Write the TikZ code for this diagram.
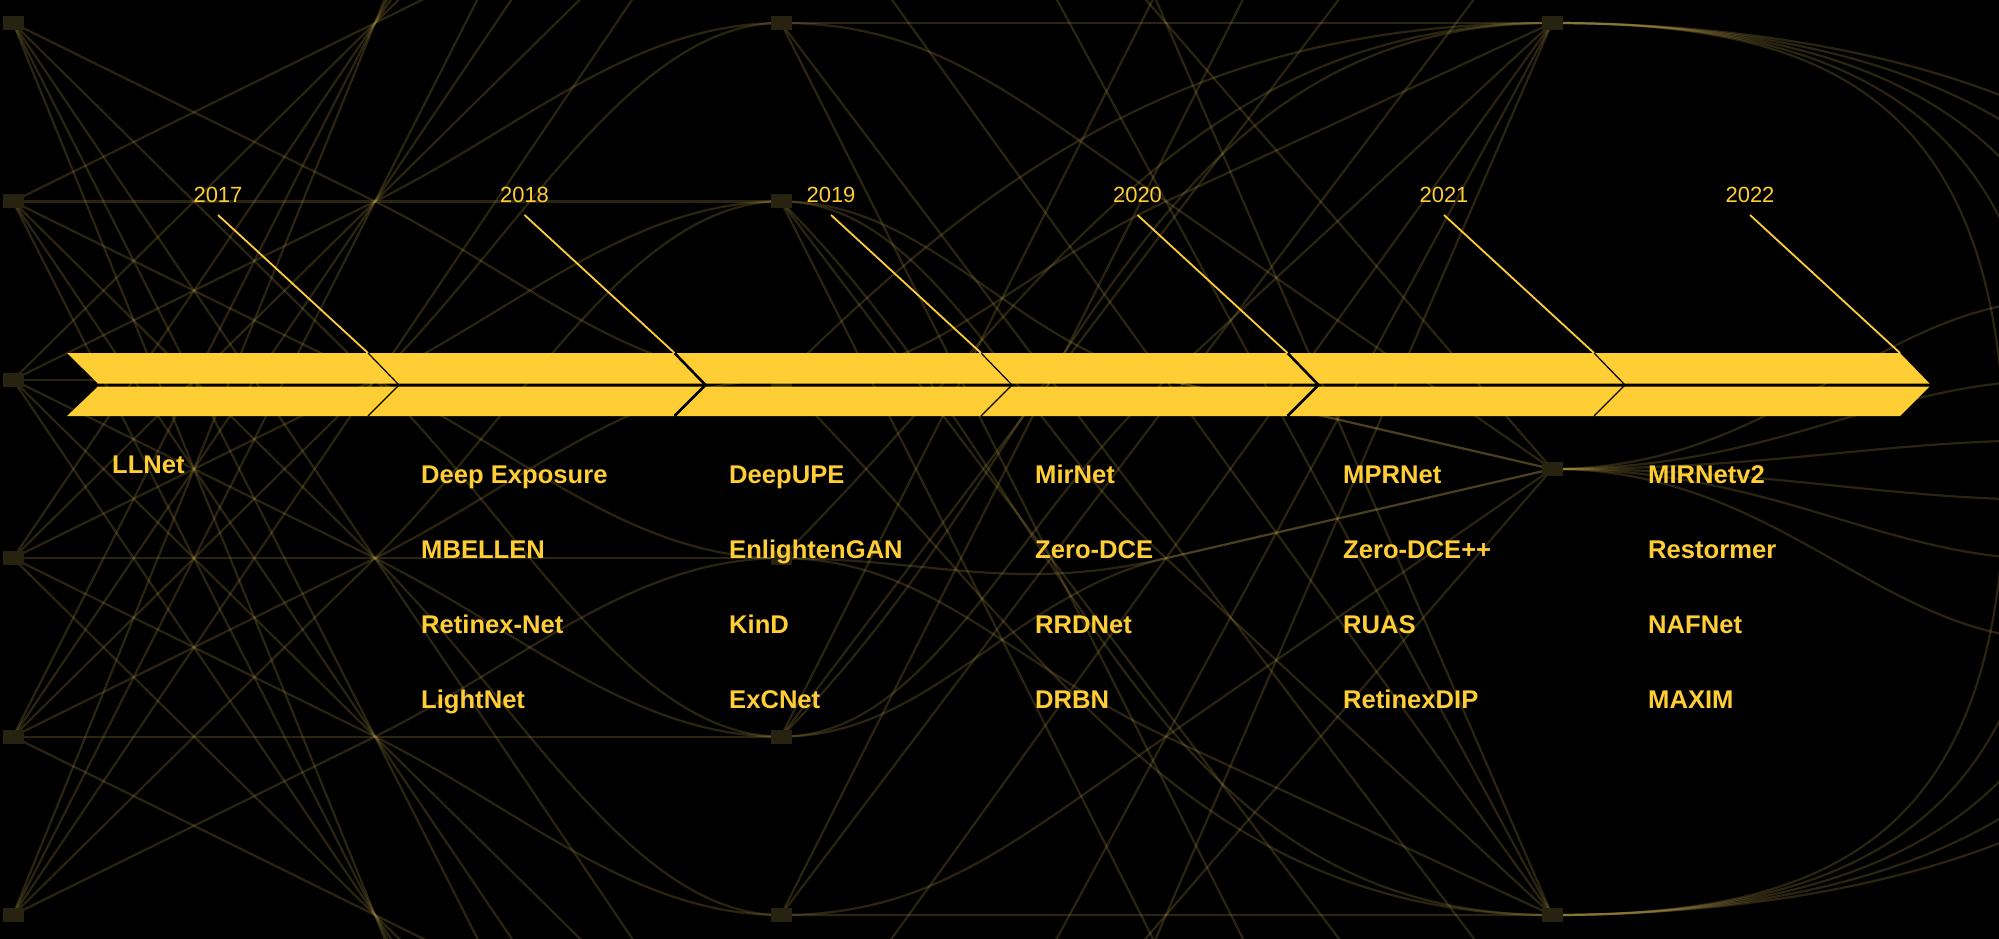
\documentclass[tikz,border=0pt]{standalone}
\usepackage{fontspec}
\setmainfont{Liberation Sans}
\usetikzlibrary{positioning,calc}

\definecolor{gold}{RGB}{255,205,52}
\definecolor{webline}{RGB}{200,170,80}
\definecolor{hubfill}{RGB}{40,34,17}

\begin{document}
\begin{tikzpicture}[
    x=1pt, y=-1pt,
    web/.style={draw=webline, opacity=0.21, line width=2.2pt},
    hub/.style={rectangle, fill=hubfill, minimum width=21pt, minimum height=14pt, inner sep=0pt},
    year/.style={text=gold, font=\fontsize{22}{26}\selectfont, inner sep=0pt},
    method/.style={text=gold, font=\fontsize{25.6}{30}\selectfont\bfseries, inner sep=0pt, anchor=base west},
    pointer/.style={draw=gold, line width=1.8pt}
]
\useasboundingbox (0,0) rectangle (1999,939);
\fill[black] (0,0) rectangle (1999,939);
\clip (0,0) rectangle (1999,939);

% background web
\foreach \r in {0,...,5}{
  \pgfmathsetmacro\yy{23+178.4*\r}
  \coordinate (a\r) at (13,\yy);
  \coordinate (m\r) at (375,\yy);
  \coordinate (b\r) at (781,\yy);
  \coordinate (n\r) at (1166,\yy);
  \coordinate (p\r) at (1051,\yy);
}
\coordinate (c0) at (1552,23);
\coordinate (c1) at (1552,469);
\coordinate (c2) at (1552,915);

\foreach \i in {0,...,5}{
  \foreach \j in {0,...,5}{
    \pgfmathtruncatemacro\k{2*\j-\i}
    \pgfmathtruncatemacro\keep{((\i==\j)&&((\i==0)||(\i==5))) ? 0 : 1}
    \ifnum\keep=1
      \ifnum\k<0 \draw[web] (a\i) -- ($(a\i)!3!(m\j)$);
      \else\ifnum\k>5 \draw[web] (a\i) -- ($(a\i)!3!(m\j)$);
      \else \draw[web] (a\i) -- (m\j) .. controls ($(m\j)!-0.4!(a\i)$) and ($(b\k)+(-150,0)$) .. (b\k);
      \fi\fi
    \fi
  }
}

\foreach \i/\j/\k in {0/0/0, 2/1/0, 4/2/0, 1/3/2, 3/4/2, 5/5/2, 0/1/1, 1/2/1, 2/2/1, 3/3/1, 4/3/1, 5/4/1}
  \draw[web] (b\i) .. controls ($(b\i)+(150,0)$) and ($(n\j)!-0.4!(c\k)$) .. (n\j) -- (c\k);
\foreach \j/\k in {3/0, 4/0, 5/0, 0/2, 1/2, 2/2, 0/1, 5/1}
  \draw[web] (c\k) -- ($(c\k)!2!(n\j)$);
\foreach \i/\j in {0/2, 0/3, 1/3, 1/4, 4/2, 4/1, 5/3, 5/2}
  \draw[web] (b\i) -- ($(b\i)!4!(p\j)$);
\foreach \j in {2,3,4}
  \draw[web] (c0) to[out=180, in=45] (b\j);
\foreach \j in {1,2}
  \draw[web] (c2) to[out=180, in=-45] (b\j);

\foreach \X in {2005,2050,2110,2190,2290}{
  \draw[web] (c0) .. controls (1820,23) and (\X,90) .. (\X,469);
  \draw[web] (c2) .. controls (1820,915) and (\X,848) .. (\X,469);
}
\foreach \Y in {300,380,440,500,560,640}
  \draw[web] (c1) .. controls (1780,469) and (1880,\Y) .. (2060,\Y);

\foreach \r in {0,...,5}{
  \node[hub] (A\r) at (a\r) {};
  \node[hub] (B\r) at (b\r) {};
}
\foreach \r in {0,1,2}
  \node[hub] (C\r) at (c\r) {};

% timeline band
\fill[gold] (67,353) -- (1900,353) -- (1929.5,383.5) -- (98,383.5) -- cycle;
\fill[gold] (98,386.5) -- (1929.5,386.5) -- (1900,416) -- (67,416) -- cycle;
\foreach \T/\w in {399/1.2, 705.5/2.6, 1012/1.2, 1318.5/2.6, 1625/1.2}
  \draw[black, line width=\w pt] (\T-31,353) -- (\T,385) -- (\T-31,416);

% years
\node[year] (y2017) at (218,195) {2017};
\node[year] (y2018) at (524.5,195) {2018};
\node[year] (y2019) at (831,195) {2019};
\node[year] (y2020) at (1137.5,195) {2020};
\node[year] (y2021) at (1444,195) {2021};
\node[year] (y2022) at (1750,195) {2022};

\coordinate (t2017) at (368,353);
\coordinate (t2018) at (674.5,353);
\coordinate (t2019) at (981,353);
\coordinate (t2020) at (1287.5,353);
\coordinate (t2021) at (1594,353);
\coordinate (t2022) at (1900,353);

\draw[pointer] ($(y2017.south)+(0,12)$) -- (t2017);
\draw[pointer] ($(y2018.south)+(0,12)$) -- (t2018);
\draw[pointer] ($(y2019.south)+(0,12)$) -- (t2019);
\draw[pointer] ($(y2020.south)+(0,12)$) -- (t2020);
\draw[pointer] ($(y2021.south)+(0,12)$) -- (t2021);
\draw[pointer] ($(y2022.south)+(0,12)$) -- (t2022);

% methods
\node[method] (llnet) at (112,473) {LLNet};

\node[method] (deepexp) at (421,483) {Deep Exposure};
\node[method, below=75pt of deepexp.base west, anchor=base west] (mbellen) {MBELLEN};
\node[method, below=75pt of mbellen.base west, anchor=base west] (retinexnet) {Retinex-Net};
\node[method, below=75pt of retinexnet.base west, anchor=base west] (lightnet) {LightNet};

\node[method] (deepupe) at (729,483) {DeepUPE};
\node[method, below=75pt of deepupe.base west, anchor=base west] (enlightengan) {EnlightenGAN};
\node[method, below=75pt of enlightengan.base west, anchor=base west] (kind) {KinD};
\node[method, below=75pt of kind.base west, anchor=base west] (excnet) {ExCNet};

\node[method] (mirnet) at (1035,483) {MirNet};
\node[method, below=75pt of mirnet.base west, anchor=base west] (zerodce) {Zero-DCE};
\node[method, below=75pt of zerodce.base west, anchor=base west] (rrdnet) {RRDNet};
\node[method, below=75pt of rrdnet.base west, anchor=base west] (drbn) {DRBN};

\node[method] (mprnet) at (1343,483) {MPRNet};
\node[method, below=75pt of mprnet.base west, anchor=base west] (zerodcepp) {Zero-DCE++};
\node[method, below=75pt of zerodcepp.base west, anchor=base west] (ruas) {RUAS};
\node[method, below=75pt of ruas.base west, anchor=base west] (retinexdip) {RetinexDIP};

\node[method] (mirnetv2) at (1648,483) {MIRNetv2};
\node[method, below=75pt of mirnetv2.base west, anchor=base west] (restormer) {Restormer};
\node[method, below=75pt of restormer.base west, anchor=base west] (nafnet) {NAFNet};
\node[method, below=75pt of nafnet.base west, anchor=base west] (maxim) {MAXIM};
\end{tikzpicture}
\end{document}
